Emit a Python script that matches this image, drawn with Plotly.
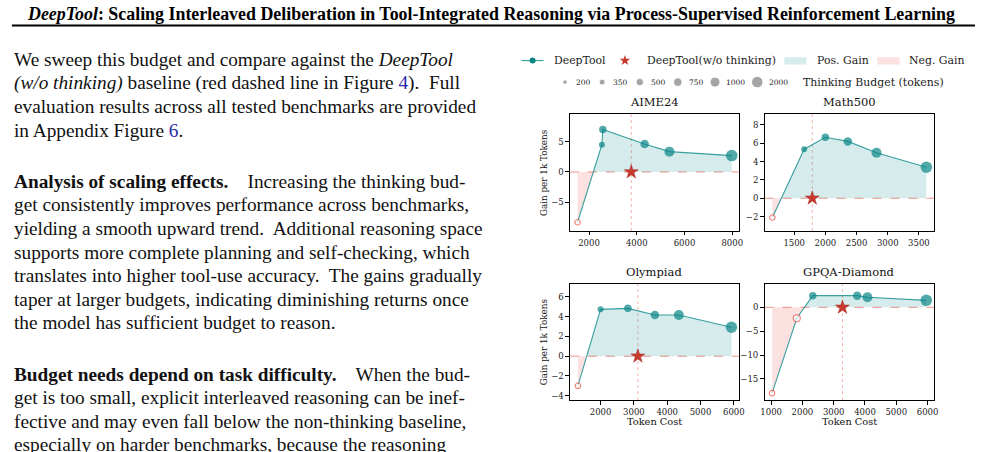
import plotly.graph_objects as go

# ---------------- data ----------------
benchmarks = ["AIME24", "Math500", "Olympiad", "GPQA-Diamond"]
budgets = [200, 350, 500, 750, 1000, 2000]

aime24_tokens = [1520, 2540, 2580, 4330, 5370, 7980]
aime24_gain = [-8.3, 4.5, 7.0, 4.6, 3.35, 2.7]
math500_tokens = [1150, 1660, 2000, 2360, 2820, 3620]
math500_gain = [-2.1, 5.35, 6.65, 6.2, 4.97, 3.38]
olympiad_tokens = [1320, 2000, 2820, 3630, 4350, 5930]
olympiad_gain = [-3.0, 4.75, 4.85, 4.18, 4.18, 2.93]
gpqa_tokens = [1030, 1820, 2330, 3750, 4080, 5960]
gpqa_gain = [-18.0, -2.3, 2.45, 2.45, 2.1, 1.46]

baseline_tokens = [3770, 1790, 3120, 3280]   # DeepTool (w/o thinking), gain = 0

xtick_vals = [[2000, 4000, 6000, 8000],
              [1500, 2000, 2500, 3000, 3500],
              [2000, 3000, 4000, 5000, 6000],
              [1000, 2000, 3000, 4000, 5000, 6000]]
ytick_vals = [[-5, 0, 5],
              [-2, 0, 2, 4, 6, 8],
              [-4, -2, 0, 2, 4, 6],
              [-15, -10, -5, 0, 5]]

tokens_all = [aime24_tokens, math500_tokens, olympiad_tokens, gpqa_tokens]
gains_all = [aime24_gain, math500_gain, olympiad_gain, gpqa_gain]

# ---------------- styles / layout ----------------
W, H = 986, 452
def px(x): return x / W
def py(y): return 1 - y / H

TEAL = "#088585"
LINE_TEAL = "rgba(11,138,138,0.8)"
POS_FILL = "rgba(0,139,139,0.16)"
NEG_FILL = "rgba(240,80,80,0.17)"
RED = "#e8483b"
STAR = "#c8392e"
SERIF = "DejaVu Serif"
TIMES = "Liberation Serif"
size_map = {200: 4.5, 350: 6, 500: 7.5, 750: 8.5, 1000: 10, 2000: 11.5}

# axes boxes in pixels: (left, right, top, bottom)
boxes = [(571.7, 742.3, 114.5, 231.5),
         (768.3, 939.3, 114.5, 231.5),
         (571.7, 742.3, 284.3, 401.0),
         (768.3, 939.3, 284.3, 401.0)]
xranges = [[1200, 8274], [1024, 3738], [1079, 6149], [788, 6199]]
yranges = [[-9.74, 9.52], [-3.57, 9.16], [-4.45, 7.35], [-19.46, 4.96]]


def fill_parts(x, y):
    xs, ys = [x[0]], [y[0]]
    for i in range(1, len(x)):
        x0, y0, x1, y1 = x[i - 1], y[i - 1], x[i], y[i]
        if (y0 < 0 < y1) or (y1 < 0 < y0):
            xc = x0 + (0 - y0) * (x1 - x0) / (y1 - y0)
            xs.append(xc)
            ys.append(0.0)
        xs.append(x1)
        ys.append(y1)
    pos = [max(v, 0) for v in ys]
    neg = [min(v, 0) for v in ys]
    return xs, pos, neg


fig = go.Figure()
shapes = []
annotations = []

for k in range(4):
    ax = "" if k == 0 else str(k + 1)
    xr, yr = "x" + ax, "y" + ax
    x, y = tokens_all[k], gains_all[k]
    xs, pos, neg = fill_parts(x, y)
    fig.add_trace(go.Scatter(x=xs, y=pos, mode="lines", fill="tozeroy",
                             fillcolor=POS_FILL, line=dict(width=0),
                             xaxis=xr, yaxis=yr, showlegend=False, hoverinfo="skip"))
    fig.add_trace(go.Scatter(x=xs, y=neg, mode="lines", fill="tozeroy",
                             fillcolor=NEG_FILL, line=dict(width=0),
                             xaxis=xr, yaxis=yr, showlegend=False, hoverinfo="skip"))
    fig.add_trace(go.Scatter(x=x, y=y, mode="lines",
                             line=dict(color=LINE_TEAL, width=1.1),
                             xaxis=xr, yaxis=yr, showlegend=False))
    px_pos = [(a, b, size_map[s]) for a, b, s in zip(x, y, budgets) if b >= 0]
    px_neg = [(a, b, size_map[s]) for a, b, s in zip(x, y, budgets) if b < 0]
    if px_pos:
        fig.add_trace(go.Scatter(x=[p[0] for p in px_pos], y=[p[1] for p in px_pos],
                                 mode="markers",
                                 marker=dict(color=TEAL, size=[p[2] for p in px_pos], line=dict(width=0)),
                                 xaxis=xr, yaxis=yr, showlegend=False))
    if px_neg:
        fig.add_trace(go.Scatter(x=[p[0] for p in px_neg], y=[p[1] for p in px_neg],
                                 mode="markers",
                                 marker=dict(color="white", size=[p[2] + 1 for p in px_neg],
                                             line=dict(color=RED, width=1.1)),
                                 xaxis=xr, yaxis=yr, showlegend=False))
    fig.add_trace(go.Scatter(x=[baseline_tokens[k]], y=[0], mode="markers",
                             marker=dict(symbol="star", color=STAR, size=10.5,
                                         line=dict(color="#a52a20", width=0.5)),
                             xaxis=xr, yaxis=yr, showlegend=False))
    # reference lines
    shapes.append(dict(type="line", xref=xr + " domain", x0=0, x1=1, yref=yr, y0=0, y1=0,
                       line=dict(color="rgba(232,72,59,0.6)", width=1, dash="dash"), layer="below"))
    shapes.append(dict(type="line", xref=xr, x0=baseline_tokens[k], x1=baseline_tokens[k],
                       yref=yr + " domain", y0=0, y1=1,
                       line=dict(color="rgba(232,72,59,0.42)", width=1, dash="dot"), layer="below"))

    l, r, t, b = boxes[k]
    axis_common = dict(showline=True, linecolor="black", linewidth=1, mirror=True,
                       ticks="outside", ticklen=3.5, tickwidth=0.8, tickcolor="black",
                       showgrid=False, zeroline=False,
                       tickfont=dict(family=SERIF, size=8.5, color="#222"))
    fig.layout["xaxis" + ax] = dict(domain=[px(l), px(r)], range=xranges[k], anchor=yr,
                                    tickmode="array", tickvals=xtick_vals[k],
                                    ticktext=[str(v) for v in xtick_vals[k]], **axis_common)
    fig.layout["yaxis" + ax] = dict(domain=[py(b), py(t)], range=yranges[k], anchor=xr,
                                    tickmode="array", tickvals=ytick_vals[k],
                                    ticktext=[("\u2212" + str(-v)) if v < 0 else str(v) for v in ytick_vals[k]],
                                    **axis_common)
    annotations.append(dict(text=benchmarks[k], xref="paper", yref="paper",
                            x=px((l + r) / 2), y=py(t - 3), xanchor="center", yanchor="bottom",
                            showarrow=False, font=dict(family=SERIF, size=11.5, color="#111")))
    if k in (0, 2):
        annotations.append(dict(text="Gain per 1k Tokens", xref="paper", yref="paper",
                                x=px(545), y=py((t + b) / 2), textangle=-90,
                                xanchor="center", yanchor="middle", showarrow=False,
                                font=dict(family=SERIF, size=8.8, color="#111")))
    if k in (2, 3):
        annotations.append(dict(text="Token Cost", xref="paper", yref="paper",
                                x=px((l + r) / 2), y=py(422.7), xanchor="center", yanchor="middle",
                                showarrow=False, font=dict(family=SERIF, size=9.8, color="#111")))

# ---------------- legend (drawn on a full-page overlay axis) ----------------
fig.layout["xaxis5"] = dict(domain=[0, 1], range=[0, W], visible=False, anchor="y5", fixedrange=True)
fig.layout["yaxis5"] = dict(domain=[0, 1], range=[H, 0], visible=False, anchor="x5", fixedrange=True)
LY1, LY2 = 60.7, 82.3
fig.add_trace(go.Scatter(x=[522.7, 545], y=[LY1, LY1], mode="lines",
                         line=dict(color=LINE_TEAL, width=1.1), xaxis="x5", yaxis="y5",
                         showlegend=False, hoverinfo="skip"))
fig.add_trace(go.Scatter(x=[534], y=[LY1], mode="markers", marker=dict(color=TEAL, size=6),
                         xaxis="x5", yaxis="y5", showlegend=False, hoverinfo="skip"))
fig.add_trace(go.Scatter(x=[627.3], y=[LY1], mode="markers",
                         marker=dict(symbol="star", color=STAR, size=8),
                         xaxis="x5", yaxis="y5", showlegend=False, hoverinfo="skip"))
legend_dot_x = [566.7, 604.3, 642.3, 680.7, 718.3, 761.0]
legend_lab_x = [575.7, 613.3, 651.7, 690.0, 727.3, 770.7]
fig.add_trace(go.Scatter(x=legend_dot_x, y=[LY2] * len(budgets), mode="markers",
                         marker=dict(color="#808080", size=[size_map[b] for b in budgets]),
                         xaxis="x5", yaxis="y5", showlegend=False, hoverinfo="skip"))
shapes.append(dict(type="rect", xref="paper", yref="paper", x0=px(788.3), x1=px(810.7),
                   y0=py(64.7), y1=py(57.3), fillcolor=POS_FILL, line=dict(width=0)))
shapes.append(dict(type="rect", xref="paper", yref="paper", x0=px(882.3), x1=px(904.7),
                   y0=py(64.7), y1=py(57.3), fillcolor=NEG_FILL, line=dict(width=0)))
for txt, xx in [("DeepTool", 553.3), ("DeepTool(w/o thinking)", 647.3),
                ("Pos. Gain", 819.3), ("Neg. Gain", 912.7)]:
    annotations.append(dict(text=txt, xref="paper", yref="paper", x=px(xx), y=py(LY1),
                            xanchor="left", yanchor="middle", showarrow=False,
                            font=dict(family=SERIF, size=10.9, color="#222")))
for b, xx in zip(budgets, legend_lab_x):
    annotations.append(dict(text=str(b), xref="paper", yref="paper", x=px(xx), y=py(LY2),
                            xanchor="left", yanchor="middle", showarrow=False,
                            font=dict(family=SERIF, size=7.5, color="#222")))
annotations.append(dict(text="Thinking Budget (tokens)", xref="paper", yref="paper",
                        x=px(805), y=py(LY2), xanchor="left", yanchor="middle", showarrow=False,
                        font=dict(family=SERIF, size=10.9, color="#222")))

# ---------------- page text ----------------
annotations.append(dict(
    text="<b><i>DeepTool</i>: Scaling Interleaved Deliberation in Tool-Integrated Reasoning via "
         "Process-Supervised Reinforcement Learning</b>",
    xref="paper", yref="paper", x=px(492), y=py(14), xanchor="center", yanchor="middle",
    showarrow=False, font=dict(family=TIMES, size=17.9, color="black")))
shapes.append(dict(type="line", xref="paper", yref="paper", x0=px(8), x1=px(981),
                   y0=py(25.5), y1=py(25.5), line=dict(color="black", width=2)))

BLUE = "#2a2aa8"
sp = "\u00a0"
body_lines = [
    (60.0, "We sweep this budget and compare against the <i>DeepTool</i>"),
    (83.6, "<i>(w/o thinking)</i> baseline (red dashed line in Figure <span style='color:%s'>4</span>)." % BLUE + sp + " Full"),
    (107.2, "evaluation results across all tested benchmarks are provided"),
    (130.8, "in Appendix Figure <span style='color:%s'>6</span>." % BLUE),
    (181.8, "<b>Analysis of scaling effects.</b>" + sp * 3 + " Increasing the thinking bud-"),
    (205.4, "get consistently improves performance across benchmarks,"),
    (229.0, "yielding a smooth upward trend." + sp + " Additional reasoning space"),
    (252.6, "supports more complete planning and self-checking, which"),
    (276.2, "translates into higher tool-use accuracy." + sp + " The gains gradually"),
    (299.8, "taper at larger budgets, indicating diminishing returns once"),
    (323.4, "the model has sufficient budget to reason."),
    (375.0, "<b>Budget needs depend on task difficulty.</b>" + sp * 3 + " When the bud-"),
    (398.6, "get is too small, explicit interleaved reasoning can be inef-"),
    (422.2, "fective and may even fall below the non-thinking baseline,"),
    (445.8, "especially on harder benchmarks, because the reasoning"),
]
for yy, txt in body_lines:
    annotations.append(dict(text=txt, xref="paper", yref="paper", x=px(8), y=py(yy),
                            xanchor="left", yanchor="middle", showarrow=False,
                            font=dict(family=TIMES, size=19.3, color="#111")))

fig.update_layout(width=W, height=H, margin=dict(l=0, r=0, t=0, b=0),
                  paper_bgcolor="white", plot_bgcolor="rgba(0,0,0,0)",
                  shapes=shapes, annotations=annotations, showlegend=False)
fig.write_html("out.html")
